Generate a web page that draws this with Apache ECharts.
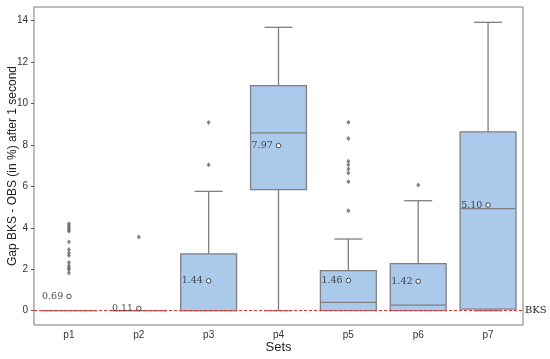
<!DOCTYPE html>
<html>
<head>
<meta charset="utf-8">
<script src="https://cdn.jsdelivr.net/npm/echarts@6/dist/echarts.min.js"></script>
<style>html,body{margin:0;padding:0;background:#fff}#c{width:550px;height:359px}</style>
</head>
<body>
<div id="c"></div>
<script>
var categories = ['p1', 'p2', 'p3', 'p4', 'p5', 'p6', 'p7'];
var boxMin    = [0, 0, 0,    0,     0,    0,    0];
var boxQ1     = [0, 0, 0,    5.84,  0,    0,    0.08];
var boxMedian = [0, 0, 0,    8.58,  0.40, 0.27, 4.93];
var boxQ3     = [0, 0, 2.74, 10.86, 1.93, 2.27, 8.63];
var boxMax    = [0, 0, 5.76, 13.68, 3.46, 5.31, 13.92];
var means     = [0.69, 0.11, 1.44, 7.97, 1.46, 1.42, 5.10];
var outliersP1 = [4.20, 4.10, 4.00, 3.91, 3.83, 3.32, 2.95, 2.79, 2.67, 2.33, 2.17, 2.06, 1.98, 1.82];
var outliersP2 = [3.56];
var outliersP3 = [7.05, 9.09];
var outliersP4 = [];
var outliersP5 = [9.10, 8.31, 7.21, 7.05, 6.84, 6.65, 6.23, 4.83];
var outliersP6 = [6.07];
var outliersP7 = [];
var yTicks = [0, 2, 4, 6, 8, 10, 12, 14];
var bksValue = 0;

var allOutliers = [outliersP1, outliersP2, outliersP3, outliersP4, outliersP5, outliersP6, outliersP7];
var boxData = categories.map(function (c, i) {
  return [i, boxMin[i], boxQ1[i], boxMedian[i], boxQ3[i], boxMax[i]];
});
var outlierData = [];
allOutliers.forEach(function (arr, i) { arr.forEach(function (v) { outlierData.push([i, v]); }); });
var meanData = means.map(function (v, i) { return [i, v]; });

var boxStroke = '#7f7f7f';
var redLine = { color: '#e8312c', type: [3, 2], width: 1.2 };
var chart = echarts.init(document.getElementById('c'));
chart.setOption({
  animation: false,
  grid: { left: 34, right: 27, top: 7, bottom: 34, show: true, borderColor: '#7a7a7a', borderWidth: 1,
          containLabel: false, outerBoundsMode: 'none' },
  xAxis: {
    type: 'category', data: categories, boundaryGap: true,
    name: 'Sets', nameLocation: 'middle', nameGap: 16, nameMoveOverlap: false,
    nameTextStyle: { fontFamily: 'Liberation Sans', fontSize: 13, color: '#222' },
    axisLine: { show: false }, axisTick: { show: false },
    axisLabel: { fontFamily: 'Liberation Sans', fontSize: 10, color: '#333', margin: 5 },
    splitLine: { show: false }
  },
  yAxis: {
    type: 'value', min: -0.69, max: 14.66,
    name: 'Gap BKS - OBS (in %) after 1 second', nameLocation: 'middle', nameGap: 15, nameMoveOverlap: false,
    nameTextStyle: { fontFamily: 'Liberation Sans', fontSize: 12, color: '#222' },
    axisLine: { show: false },
    axisTick: { show: true, length: 3, customValues: yTicks, lineStyle: { color: '#555' } },
    axisLabel: { customValues: yTicks, fontFamily: 'Liberation Sans', fontSize: 10, color: '#333', margin: 6 },
    splitLine: { show: false }
  },
  series: [
    {
      type: 'custom',
      data: boxData,
      z: 2,
      renderItem: function (params, api) {
        var idx = api.value(0);
        var band = api.size([1, 0])[0];
        var bw = band * 0.8, cw = band * 0.4;
        var pMin = api.coord([idx, api.value(1)]);
        var pQ1 = api.coord([idx, api.value(2)]);
        var pMed = api.coord([idx, api.value(3)]);
        var pQ3 = api.coord([idx, api.value(4)]);
        var pMax = api.coord([idx, api.value(5)]);
        var x = pQ1[0];
        var ls = { stroke: boxStroke, lineWidth: 1.3 };
        var children = [];
        if (pMin[1] !== pQ1[1]) {
          children.push({ type: 'line', shape: { x1: x, y1: pQ1[1], x2: x, y2: pMin[1] }, style: ls });
          children.push({ type: 'line', shape: { x1: x - cw / 2, y1: pMin[1], x2: x + cw / 2, y2: pMin[1] }, style: ls });
        }
        if (pMax[1] !== pQ3[1]) {
          children.push({ type: 'line', shape: { x1: x, y1: pQ3[1], x2: x, y2: pMax[1] }, style: ls });
          children.push({ type: 'line', shape: { x1: x - cw / 2, y1: pMax[1], x2: x + cw / 2, y2: pMax[1] }, style: ls });
        }
        children.push({ type: 'rect', shape: { x: x - bw / 2, y: pQ3[1], width: bw, height: pQ1[1] - pQ3[1] },
          style: { fill: '#abc9eb', stroke: boxStroke, lineWidth: 1.3 } });
        children.push({ type: 'line', shape: { x1: x - bw / 2, y1: pMed[1], x2: x + bw / 2, y2: pMed[1] }, style: ls });
        return { type: 'group', children: children };
      }
    },
    {
      type: 'scatter', data: outlierData, z: 3,
      symbol: 'diamond', symbolSize: [4, 5],
      itemStyle: { color: '#636363' }
    },
    {
      type: 'scatter', data: meanData, z: 5,
      symbol: 'circle', symbolSize: 4.5,
      itemStyle: { color: '#ffffff', borderColor: '#222', borderWidth: 1 },
      label: {
        show: true, position: 'left', distance: 3,
        formatter: function (p) { return p.value[1].toFixed(2); },
        fontFamily: 'DejaVu Serif', fontSize: 9.5, color: '#222'
      }
    },
    {
      type: 'line', data: [], z: 6,
      itemStyle: { color: '#e8312c' },
      lineStyle: { color: '#e8312c' },
      markLine: {
        silent: true, symbol: 'none',
        lineStyle: redLine,
        label: { show: true, position: 'end', formatter: 'BKS', fontFamily: 'DejaVu Serif', fontSize: 10, color: '#222', distance: 2 },
        data: [{ yAxis: bksValue, lineStyle: redLine }]
      }
    }
  ]
});
</script>
</body>
</html>
